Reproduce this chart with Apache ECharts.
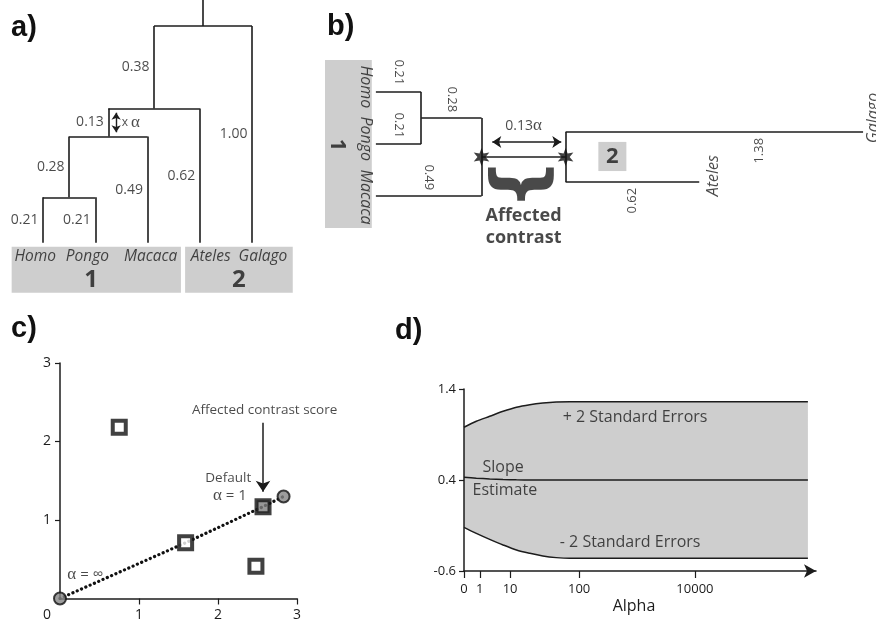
<!DOCTYPE html>
<html lang="en">
  <head>
    <meta charset="utf-8" />
    <title>Contrast scaling figure</title>
    <script src="https://cdn.jsdelivr.net/npm/echarts@6/dist/echarts.min.js"></script>
    <style>
      html,
      body {
        margin: 0;
        padding: 0;
        background: #fff;
      }
      #main {
        width: 876px;
        height: 625px;
      }
    </style>
  </head>
  <body>
    <div id="main"></div>
    <script type="text/javascript">
      // ---- data ----
      // panels a/b: the primate tree
      var taxa = ["Homo", "Pongo", "Macaca", "Ateles", "Galago"];
      var tipLength = [0.21, 0.21, 0.49, 0.62, 1.0];
      var cladeLength = [0.28, 0.13, 0.38]; // (Homo,Pongo) / +Macaca / +Ateles
      var stemLength = 0.12;
      var groupName = ["1", "2"];
      var alphaShown = 3; // how long the 0.13 branch is drawn in b

      // panel c: contrast scores
      var contrastPts = [[0.75, 2.18], [1.59, 0.71], [2.48, 0.41]];
      var defaultPt = [2.57, 1.17];
      var alphaEnds = [[0, 0], [2.83, 1.3]];
      var alphaPath = [[0, 0], [1.59, 0.71], [2.57, 1.17], [2.83, 1.3]];

      // panel d: slope vs alpha (x is the drawn position along the axis)
      var alphaPos = [0, 3.5, 7.3, 11.1, 14.9, 18.7, 22.4, 26.2, 30, 97.7];
      var upperSE = [0.98, 1.045, 1.1, 1.155, 1.2, 1.228, 1.246, 1.257, 1.26, 1.26];
      var lowerSE = [-0.12, -0.186, -0.252, -0.314, -0.369, -0.406, -0.435, -0.453, -0.461, -0.461];
      var slopeEst = [0.43, 0.42, 0.412, 0.406, 0.402, 0.4, 0.4, 0.4, 0.4, 0.4];
      var alphaTickPos = [0, 4.5, 13.1, 32.7, 65.6];
      var alphaTickText = ["0", "1", "10", "100", "10000"];

      var FONT = "Open Sans";
      var INK = "#1c1c1c";
      var GRAY = "#cecece";

      // ---- panel a: lay the tree out from the branch lengths ----
      function leaf(i) {
        return { leaf: i, len: tipLength[i] };
      }
      var treeA = {
        len: stemLength,
        kids: [
          {
            len: cladeLength[2],
            kids: [
              {
                len: cladeLength[1],
                kids: [{ len: cladeLength[0], kids: [leaf(0), leaf(1)] }, leaf(2)],
              },
              leaf(3),
            ],
          },
          leaf(4),
        ],
      };
      var edgesA = [];
      var lenLabelsA = [];
      function place(n, top) {
        n.y = top + n.len;
        if (n.kids) {
          n.kids.forEach(function (k) {
            place(k, n.y);
          });
          var a = n.kids[0].x,
            b = n.kids[n.kids.length - 1].x;
          n.x = (a + b) / 2;
          edgesA.push({ coords: [[a, n.y], [b, n.y]] });
        } else {
          n.x = n.leaf;
        }
        edgesA.push({ coords: [[n.x, top], [n.x, n.y]] });
        if (top > -stemLength) {
          lenLabelsA.push({ name: n.len.toFixed(2), value: [n.x, (top + n.y) / 2] });
        }
      }
      place(treeA, -stemLength);
      var alphaNode = treeA.kids[0].kids[0]; // the 0.13 branch
      // names sit left-packed in their boxes, not centred on the tips
      var nudge = [-0.15, -0.15, 0.06, 0.21, 0.21];

      // ---- panel b: same tree, re-drawn around the affected contrast ----
      var hp = tipLength[0];
      var g1 = hp + cladeLength[0];
      var g2 = g1 + cladeLength[1] * alphaShown;
      var g1Row = (0.5 + 2) / 2;
      var galRow = g1Row - 0.48,
        ateRow = g1Row + 0.48;
      var galLen = cladeLength[2] + tipLength[4];
      var edgesB = [
        [[0, 0], [hp, 0]],
        [[0, 1], [hp, 1]],
        [[hp, 0], [hp, 1]],
        [[hp, 0.5], [g1, 0.5]],
        [[g1 - tipLength[2], 2], [g1, 2]],
        [[g1, 0.5], [g1, 2]],
        [[g1, g1Row], [g2, g1Row]],
        [[g2, galRow], [g2, ateRow]],
        [[g2, galRow], [g2 + galLen, galRow]],
        [[g2, ateRow], [g2 + tipLength[3], ateRow]],
      ].map(function (c) {
        return { coords: c };
      });

      function starPath(n, r1, r2) {
        var p = [];
        for (var i = 0; i < 2 * n; i++) {
          var r = i % 2 ? r2 : r1;
          var a = (Math.PI * i) / n - Math.PI / 2;
          p.push((i ? "L" : "M") + (r * Math.cos(a)).toFixed(3) + " " + (r * Math.sin(a)).toFixed(3));
        }
        return "path://" + p.join(" ") + " Z";
      }

      function textSeries(idx, items, style) {
        return {
          type: "scatter",
          xAxisIndex: idx,
          yAxisIndex: idx,
          symbolSize: 1,
          itemStyle: { color: "transparent" },
          silent: true,
          z: 10,
          data: items,
          label: Object.assign(
            {
              show: true,
              position: "inside",
              formatter: function (p) {
                return p.name;
              },
              color: INK,
              fontFamily: FONT,
              fontSize: 14,
            },
            style
          ),
        };
      }
      var greek = {
        g: { fontFamily: "Liberation Serif", fontSize: 17, color: INK },
      };

      var treeLine = { color: INK, width: 1.6, opacity: 1 };

      var chart = echarts.init(document.getElementById("main"), null, { renderer: "canvas" });
      chart.setOption({
        animation: false,
        backgroundColor: "#fff",
        graphic: [
          { type: "text", left: 11, top: 13, style: { text: "a)", font: "bold 29px Liberation Sans", fill: "#111" } },
          { type: "text", left: 327, top: 12, style: { text: "b)", font: "bold 29px Liberation Sans", fill: "#111" } },
          { type: "text", left: 11, top: 314, style: { text: "c)", font: "bold 29px Liberation Sans", fill: "#111" } },
          { type: "text", left: 395, top: 316, style: { text: "d)", font: "bold 29px Liberation Sans", fill: "#111" } },
        ],
        grid: [
          { left: 11.65, top: 0, width: 282.15, height: 297 },
          { left: 322, top: 50.4, width: 555.1, height: 197.6 },
          { left: 60, top: 363, width: 237, height: 235.5 },
          { left: 464, top: 389, width: 352, height: 182 },
        ],
        xAxis: [
          { gridIndex: 0, type: "value", min: -0.6, max: 4.8, show: false },
          { gridIndex: 1, type: "value", min: -0.25, max: 2.32, show: false },
          {
            gridIndex: 2,
            type: "value",
            min: 0,
            max: 3,
            splitLine: { show: false },
            axisLine: { onZero: false, lineStyle: { color: INK, width: 1.5 } },
            axisTick: { customValues: [1, 2, 3], length: 6, lineStyle: { color: INK, width: 1.2 } },
            axisLabel: {
              customValues: [0, 1, 2, 3],
              margin: 10,
              fontSize: 14,
              fontFamily: FONT,
              color: INK,
              formatter: function (v) {
                return v === 0 ? "{o|0}" : String(v);
              },
              rich: { o: { fontSize: 14, fontFamily: FONT, color: INK, padding: [0, 26, 0, 0] } },
            },
          },
          {
            gridIndex: 3,
            type: "value",
            min: 0,
            max: 100,
            z: 10,
            splitLine: { show: false },
            name: "Alpha",
            nameLocation: "middle",
            nameGap: 27,
            nameTextStyle: { fontSize: 16, fontFamily: FONT, color: INK, padding: [0, 12, 0, 0] },
            axisLine: {
              onZero: false,
              symbol: ["none", "arrow"],
              symbolSize: [10, 12],
              lineStyle: { color: INK, width: 1.5 },
            },
            axisTick: { customValues: alphaTickPos, length: 7, lineStyle: { color: INK, width: 1.2 } },
            axisLabel: {
              customValues: alphaTickPos,
              margin: 12,
              fontSize: 13,
              fontFamily: FONT,
              color: INK,
              formatter: function (v) {
                return alphaTickText[alphaTickPos.indexOf(v)];
              },
            },
          },
        ],
        yAxis: [
          { gridIndex: 0, type: "value", min: -0.12, max: 1.25, inverse: true, show: false },
          { gridIndex: 1, type: "value", min: -0.8, max: 3.0, inverse: true, show: false },
          {
            gridIndex: 2,
            type: "value",
            min: 0,
            max: 3,
            splitLine: { show: false },
            axisLine: { show: true, onZero: false, lineStyle: { color: INK, width: 1.5 } },
            axisTick: { show: true, customValues: [1, 2, 3], length: 5, lineStyle: { color: INK, width: 1.2 } },
            axisLabel: { customValues: [1, 2, 3], margin: 9, fontSize: 14, fontFamily: FONT, color: INK },
          },
          {
            gridIndex: 3,
            type: "value",
            min: -0.6,
            max: 1.4,
            z: 10,
            splitLine: { show: false },
            axisLine: { show: true, onZero: false, lineStyle: { color: INK, width: 1.5 } },
            axisTick: { show: true, customValues: [-0.6, 0.4, 1.4], length: 5, lineStyle: { color: INK, width: 1.2 } },
            axisLabel: {
              customValues: [-0.6, 0.4, 1.4],
              margin: 8,
              fontSize: 13,
              fontFamily: FONT,
              color: INK,
              formatter: function (v) {
                return v.toFixed(1);
              },
            },
          },
        ],
        series: [
          // ---------- a) ----------
          {
            type: "lines",
            coordinateSystem: "cartesian2d",
            xAxisIndex: 0,
            yAxisIndex: 0,
            data: edgesA,
            lineStyle: treeLine,
            silent: true,
            z: 3,
            markArea: {
              silent: true,
              itemStyle: { color: GRAY },
              data: [
                [{ coord: [-0.6, 1.018] }, { coord: [2.64, 1.23] }],
                [{ coord: [2.72, 1.018] }, { coord: [4.78, 1.23] }],
              ],
            },
          },
          {
            type: "lines",
            coordinateSystem: "cartesian2d",
            xAxisIndex: 0,
            yAxisIndex: 0,
            symbol: ["arrow", "arrow"],
            symbolSize: 7,
            lineStyle: { color: INK, width: 1.4, opacity: 1 },
            silent: true,
            z: 3,
            data: [{ coords: [[alphaNode.x + 0.15, alphaNode.y - alphaNode.len + 0.02], [alphaNode.x + 0.15, alphaNode.y - 0.02]] }],
          },
          textSeries(0, lenLabelsA, { position: "left", distance: 4 }),
          textSeries(
            0,
            [{ name: "x {g|α}", value: [alphaNode.x + 0.15, alphaNode.y - alphaNode.len / 2] }],
            { position: "right", distance: 5, fontSize: 12, rich: greek }
          ),
          textSeries(
            0,
            taxa.map(function (t, i) {
              return { name: t, value: [i + nudge[i], 1.065] };
            }),
            { fontSize: 15.5, fontStyle: "italic" }
          ),
          textSeries(
            0,
            [
              { name: groupName[0], value: [0.92, 1.17] },
              { name: groupName[1], value: [3.75, 1.17] },
            ],
            { fontSize: 24, fontWeight: "bold" }
          ),

          // ---------- b) ----------
          {
            type: "lines",
            coordinateSystem: "cartesian2d",
            xAxisIndex: 1,
            yAxisIndex: 1,
            data: edgesB,
            lineStyle: treeLine,
            silent: true,
            z: 3,
            markArea: {
              silent: true,
              itemStyle: { color: GRAY },
              data: [
                [{ coord: [-0.236, -0.615] }, { coord: [-0.019, 2.615] }],
                [{ coord: [1.032, 0.96] }, { coord: [1.162, 1.52] }],
              ],
            },
          },
          {
            type: "lines",
            coordinateSystem: "cartesian2d",
            xAxisIndex: 1,
            yAxisIndex: 1,
            symbol: ["arrow", "arrow"],
            symbolSize: 9,
            lineStyle: { color: INK, width: 1.5, opacity: 1 },
            silent: true,
            z: 3,
            data: [{ coords: [[g1 + 0.05, 0.96], [g2 - 0.02, 0.96]] }],
          },
          {
            type: "scatter",
            xAxisIndex: 1,
            yAxisIndex: 1,
            symbol: starPath(6, 1, 0.45),
            symbolKeepAspect: true,
            symbolSize: 18,
            itemStyle: { color: "#111" },
            silent: true,
            z: 6,
            data: [[g1, g1Row], [g2, g1Row]],
          },
          textSeries(
            1,
            [
              { name: taxa[0], value: [-0.05, -0.1] },
              { name: taxa[1], value: [-0.05, 0.9] },
              { name: taxa[2], value: [-0.05, 2.02] },
            ],
            { fontSize: 16, fontStyle: "italic", rotate: -90 }
          ),
          textSeries(1, [{ name: groupName[0], value: [-0.18, 1.02] }], { fontSize: 22, fontWeight: "bold", rotate: -90 }),
          textSeries(1, [{ name: groupName[1], value: [1.097, 1.24] }], { fontSize: 22, fontWeight: "bold" }),
          textSeries(
            1,
            [
              { name: taxa[3], value: [g2 + tipLength[3] + 0.065, ateRow - 0.12] },
              { name: taxa[4], value: [g2 + galLen + 0.047, galRow - 0.27] },
            ],
            { fontSize: 16, fontStyle: "italic", rotate: 90 }
          ),
          textSeries(
            1,
            [
              { name: tipLength[0].toFixed(2), value: [hp / 2, -0.38] },
              { name: tipLength[1].toFixed(2), value: [hp / 2, 1 - 0.36] },
              { name: cladeLength[0].toFixed(2), value: [(hp + g1) / 2, 0.5 - 0.36] },
              { name: tipLength[2].toFixed(2), value: [g1 / 2, 2 - 0.36] },
            ],
            { fontSize: 13, rotate: -90 }
          ),
          textSeries(
            1,
            [
              { name: tipLength[3].toFixed(2), value: [g2 + tipLength[3] / 2, ateRow + 0.36] },
              { name: galLen.toFixed(2), value: [g2 + 0.9, galRow + 0.36] },
            ],
            { fontSize: 13, rotate: 90 }
          ),
          textSeries(
            1,
            [{ name: cladeLength[1].toFixed(2) + "{g|α}", value: [(g1 + g2) / 2, 0.65] }],
            { fontSize: 14, rich: greek }
          ),
          textSeries(1, [{ name: "{", value: [(g1 + g2) / 2, 1.77] }], {
            fontSize: 72,
            fontWeight: "bold",
            fontFamily: "DejaVu Sans",
            rotate: 90,
          }),
          textSeries(
            1,
            [
              { name: "Affected", value: [(g1 + g2) / 2, 2.38] },
              { name: "contrast", value: [(g1 + g2) / 2, 2.81] },
            ],
            { fontSize: 18, fontWeight: "bold" }
          ),

          // ---------- c) ----------
          {
            type: "line",
            xAxisIndex: 2,
            yAxisIndex: 2,
            data: alphaPath,
            symbol: "none",
            lineStyle: { color: "#111", width: 3.2, type: [0.1, 4.6], cap: "round" },
            silent: true,
            z: 2,
          },
          {
            type: "scatter",
            xAxisIndex: 2,
            yAxisIndex: 2,
            symbol: "rect",
            symbolSize: 13,
            itemStyle: { color: "#fff", borderColor: "#111", borderWidth: 4 },
            silent: true,
            z: 4,
            data: contrastPts,
          },
          {
            type: "scatter",
            xAxisIndex: 2,
            yAxisIndex: 2,
            symbol: "rect",
            symbolSize: 13,
            itemStyle: { color: "#7d7d7d", borderColor: "#111", borderWidth: 4 },
            silent: true,
            z: 4,
            data: [defaultPt],
          },
          {
            type: "scatter",
            xAxisIndex: 2,
            yAxisIndex: 2,
            symbol: "circle",
            symbolSize: 12,
            itemStyle: { color: "#858585", borderColor: "#111", borderWidth: 2 },
            silent: true,
            z: 5,
            data: alphaEnds,
          },
          {
            type: "lines",
            coordinateSystem: "cartesian2d",
            xAxisIndex: 2,
            yAxisIndex: 2,
            symbol: ["none", "arrow"],
            symbolSize: 11,
            lineStyle: { color: INK, width: 1.5, opacity: 1 },
            silent: true,
            z: 3,
            data: [{ coords: [[2.57, 2.24], [2.57, 1.36]] }],
          },
          textSeries(
            2,
            [
              { name: "Affected contrast score", value: [2.59, 2.4] },
              { name: "Default", value: [2.13, 1.535] },
            ],
            { fontSize: 13.5 }
          ),
          textSeries(
            2,
            [
              { name: "{g|α} = 1", value: [2.15, 1.31] },
              { name: "{g|α} = 0", value: [3.08, 1.56] },
              { name: "{g|α} = ∞", value: [0.32, 0.3] },
            ],
            { fontSize: 15, rich: greek }
          ),

          // ---------- d) ----------
          {
            type: "line",
            xAxisIndex: 3,
            yAxisIndex: 3,
            smooth: 0.3,
            symbol: "none",
            lineStyle: { color: INK, width: 1.5 },
            areaStyle: { color: GRAY, opacity: 1, origin: "start" },
            silent: true,
            z: 2,
            data: alphaPos.map(function (x, i) {
              return [x, upperSE[i]];
            }),
          },
          {
            type: "line",
            xAxisIndex: 3,
            yAxisIndex: 3,
            smooth: 0.3,
            symbol: "none",
            lineStyle: { color: INK, width: 1.5 },
            areaStyle: { color: "#fff", opacity: 1, origin: "start" },
            silent: true,
            z: 3,
            data: alphaPos.map(function (x, i) {
              return [x, lowerSE[i]];
            }),
          },
          {
            type: "line",
            xAxisIndex: 3,
            yAxisIndex: 3,
            smooth: 0.3,
            symbol: "none",
            lineStyle: { color: INK, width: 1.5 },
            silent: true,
            z: 4,
            data: alphaPos.map(function (x, i) {
              return [x, slopeEst[i]];
            }),
          },
          textSeries(
            3,
            [
              { name: "+ 2 Standard Errors", value: [48.6, 1.09] },
              { name: "- 2 Standard Errors", value: [47.2, -0.29] },
              { name: "Slope", value: [11.1, 0.54] },
              { name: "Estimate", value: [11.6, 0.29] },
            ],
            { fontSize: 16 }
          ),
        ],
      });
    </script>
  </body>
</html>
